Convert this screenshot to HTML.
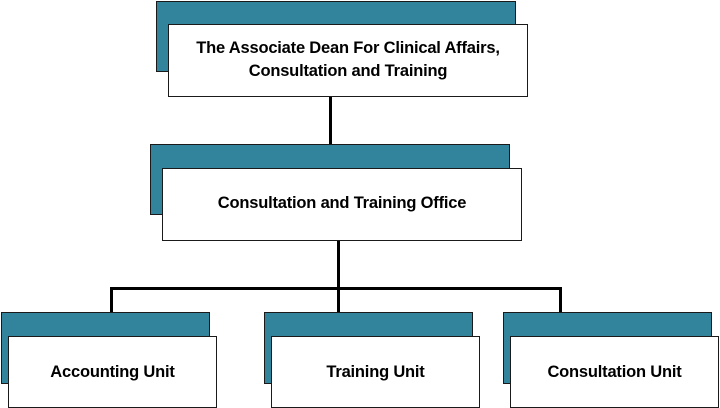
<!DOCTYPE html>
<html><head><style>
body{margin:0;width:720px;height:408px;background:#fff;position:relative;overflow:hidden;font-family:"Liberation Sans",sans-serif;}
.t,.w{position:absolute;box-sizing:border-box;border:1px solid #1a1a1a;}
.t{background:#31849B;}
.w{background:#fff;display:flex;align-items:center;justify-content:center;text-align:center;font-weight:bold;font-size:16.5px;line-height:23px;color:#000;letter-spacing:-0.2px;}
.l{position:absolute;background:#000;}
</style></head><body>
<div class="t" style="left:156px;top:1px;width:360px;height:71px"></div>
<div class="w" style="left:168px;top:24px;width:360px;height:73px;padding-bottom:2px">The Associate Dean For Clinical Affairs,<br>Consultation and Training</div>
<div class="l" style="left:329px;top:97px;width:3px;height:47px"></div>
<div class="t" style="left:150px;top:144px;width:360px;height:71px"></div>
<div class="w" style="left:162px;top:168px;width:360px;height:73px;padding-bottom:3px">Consultation and Training Office</div>
<div class="l" style="left:337px;top:241px;width:3px;height:72px"></div>
<div class="l" style="left:110px;top:287px;width:452px;height:3px"></div>
<div class="l" style="left:110px;top:287px;width:3px;height:26px"></div>
<div class="l" style="left:559px;top:287px;width:3px;height:26px"></div>
<div class="t" style="left:1px;top:312px;width:209px;height:72px"></div>
<div class="w" style="left:8px;top:336px;width:209px;height:72px">Accounting Unit</div>
<div class="t" style="left:264px;top:312px;width:209px;height:72px"></div>
<div class="w" style="left:271px;top:336px;width:209px;height:72px">Training Unit</div>
<div class="t" style="left:503px;top:312px;width:209px;height:72px"></div>
<div class="w" style="left:510px;top:336px;width:209px;height:72px">Consultation Unit</div>
</body></html>
